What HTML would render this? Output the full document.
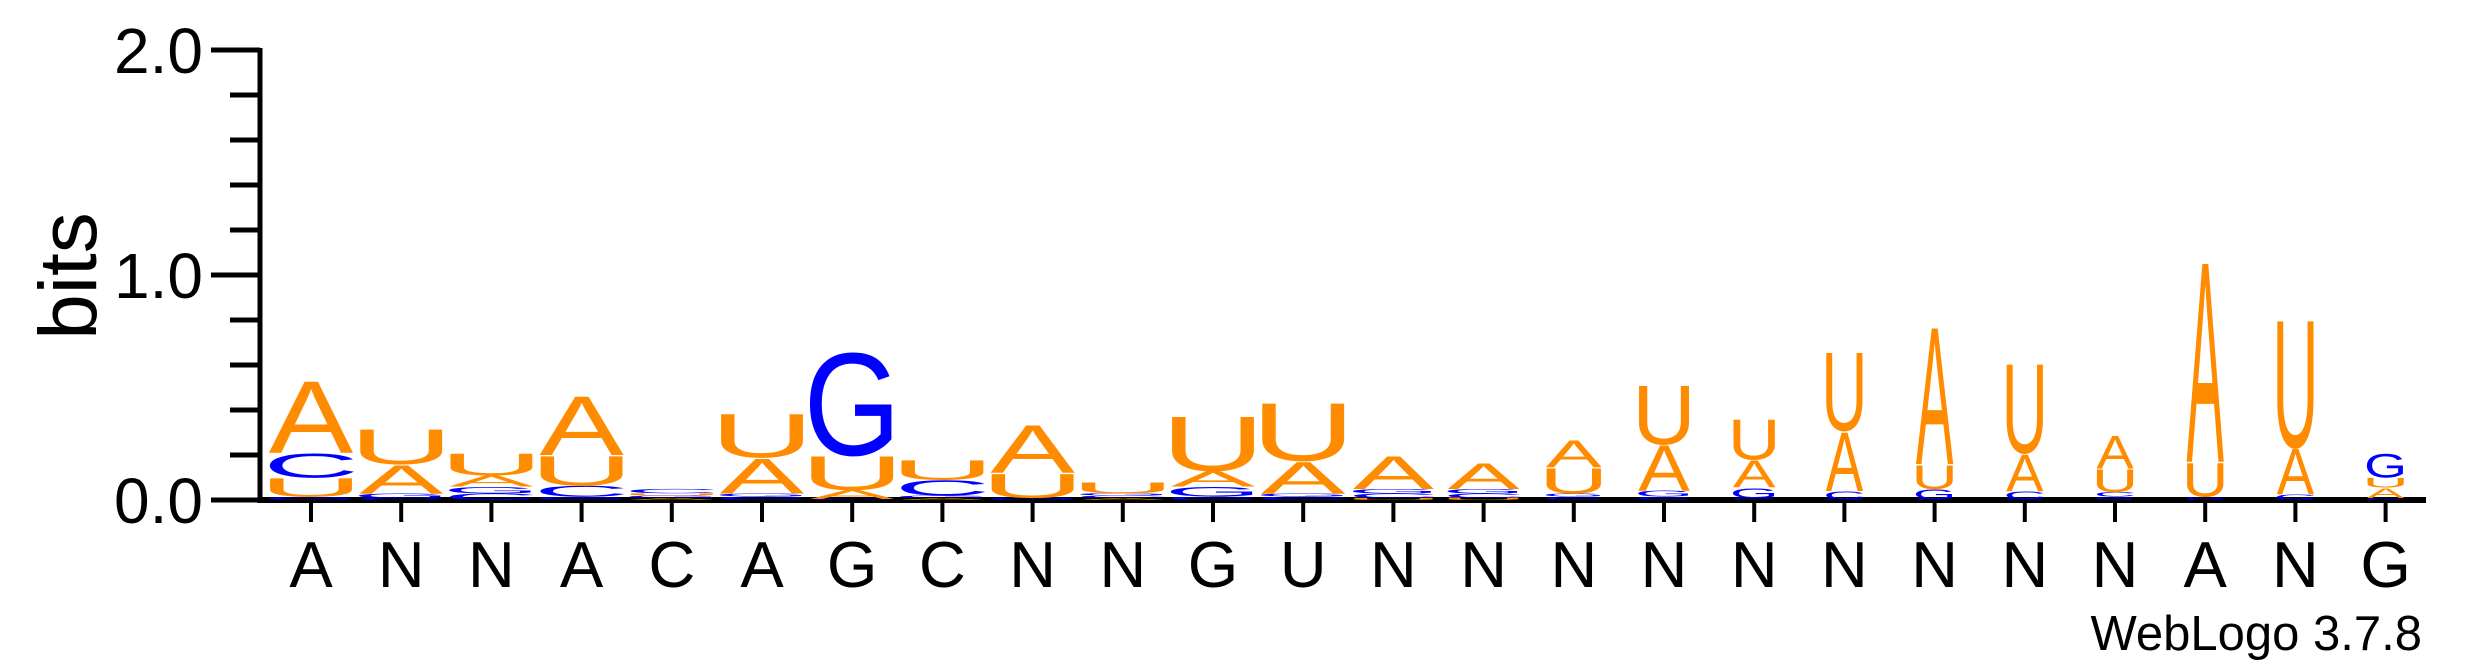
<!DOCTYPE html>
<html><head><meta charset="utf-8"><style>
html,body{margin:0;padding:0;background:#fff;}
svg{display:block;font-family:"Liberation Sans",Arial,sans-serif;}
</style></head><body>
<svg id="logo" width="2475" height="667" viewBox="0 0 2475 667" xmlns="http://www.w3.org/2000/svg">
<g id="yaxis"></g>
<g id="xaxis"></g>
<g id="stacks"></g>
<text x="0" y="0" font-size="82" text-anchor="middle" transform="translate(96,276) rotate(-90)">bits</text>
<text x="2422" y="650" font-size="49" text-anchor="end">WebLogo 3.7.8</text>
</svg>
<script>
const positions = ["A","N","N","A","C","A","G","C","N","N","G","U","N","N","N","N","N","N","N","N","N","A","N","G"];
const hA = [0.33,0.13,0.05,0.27,0.01,0.16,0.04,0.01,0.22,0.01,0.07,0.145,0.15,0.12,0.125,0.21,0.125,0.27,0.63,0.17,0.15,0.92,0.21,0.045];
const hC = [0.11,0.01,0.03,0.05,0.02,0.015,0.005,0.07,0.005,0.01,0.015,0.015,0.02,0.02,0.015,0.015,0.01,0.035,0.005,0.035,0.02,0.005,0.02,0.01];
const hG = [0.015,0.02,0.03,0.015,0.01,0.015,0.47,0.01,0.005,0.01,0.045,0.015,0.02,0.02,0.015,0.025,0.045,0.005,0.045,0.005,0.015,0.01,0.005,0.11];
const hU = [0.085,0.16,0.10,0.135,0.01,0.20,0.155,0.09,0.11,0.05,0.25,0.265,0.01,0.01,0.115,0.27,0.185,0.36,0.11,0.41,0.105,0.155,0.585,0.045];
const widthFrac = [0.95,0.95,0.95,0.95,0.95,0.95,0.95,0.95,0.95,0.95,0.95,0.95,0.91,0.81,0.63,0.58,0.48,0.42,0.42,0.42,0.42,0.42,0.42,0.42];
const yTicks = [0,1,2];
const yTickLabels = ["0.0","1.0","2.0"];

const NS = "http://www.w3.org/2000/svg";
const x0 = 311, dx = 90.2, base = 500, bitPx = 225, colW = 88;
const xPos = i => x0 + i * dx;
const yPos = v => base - v * bitPx;
const colors = {A:"#FF8C00", U:"#FF8C00", C:"#0000FF", G:"#0000FF"};
const inkW = {A:66, C:63, G:67, U:58};

function mk(tag, attrs, parent) {
  const el = document.createElementNS(NS, tag);
  for (const k in attrs) el.setAttribute(k, attrs[k]);
  parent.appendChild(el);
  return el;
}

const ya = document.getElementById('yaxis');
let ln = mk('line', {x1:260, y1:48, x2:260, y2:503, stroke:"#000", "stroke-width":5}, ya);


for (let v = 0; v <= 2.0001; v += 0.2) {
  const major = Math.abs(v - Math.round(v)) < 1e-6;
  const t = mk('line', {x1: major ? 211 : 230, x2: 260, y1: yPos(v), y2: yPos(v), stroke:"#000", "stroke-width":5}, ya);
  
  
}
yTicks.forEach((v, i) => {
  const t = mk('text', {x:203, y:yPos(v) + 23, "font-size":64, "text-anchor":"end"}, ya);
  t.textContent = yTickLabels[i];
  
  
});

const xa = document.getElementById('xaxis');
ln = mk('line', {x1:258, y1:500, x2:2426, y2:500, stroke:"#000", "stroke-width":6}, xa);


positions.forEach((p, i) => {
  const t = mk('line', {x1:xPos(i), x2:xPos(i), y1:502, y2:522, stroke:"#000", "stroke-width":4}, xa);
  
  
  const l = mk('text', {x:xPos(i), y:587, "font-size":65, "text-anchor":"middle"}, xa);
  l.textContent = p;
  
  
});

const st = document.getElementById('stacks');
positions.forEach((p, i) => {
  const items = [["A",hA[i]],["C",hC[i]],["G",hG[i]],["U",hU[i]]].sort((a,b)=>a[1]-b[1]);
  let cum = 0;
  items.forEach(([L, h]) => {
    const yb = yPos(cum);
    const hp = h * bitPx;
    cum += h;
    if (hp < 0.5) return;
    const sx = colW * widthFrac[i] / inkW[L];
    const sy = hp / 72;
    const t = mk('text', {x:0, y:0, "font-size":100, "text-anchor":"middle", fill:colors[L],
      transform:`translate(${xPos(i)},${yb}) scale(${sx},${sy})`}, st);
    t.textContent = L;
    
    
  });
});
</script>
</body></html>
